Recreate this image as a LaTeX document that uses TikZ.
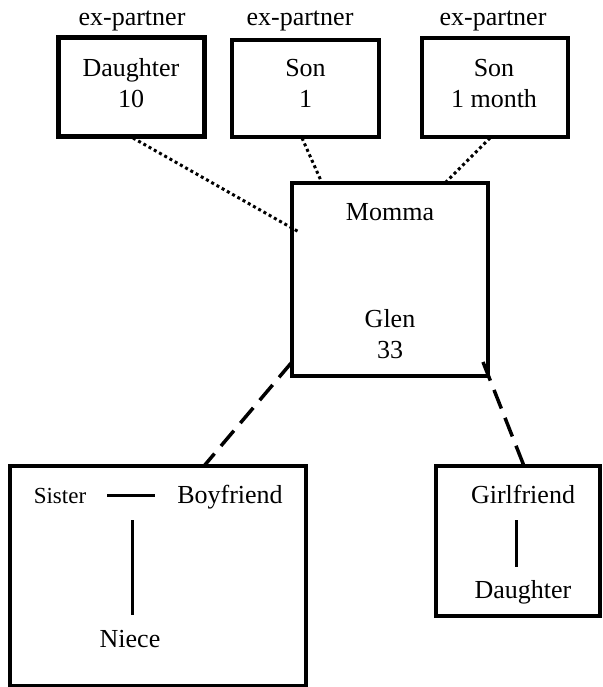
\documentclass[tikz,border=0pt]{standalone}
\usepackage{fontspec}
\setmainfont{Liberation Serif}
\begin{document}
\begin{tikzpicture}[x=1pt,y=-1pt,
  box/.style={draw,line width=3.5pt,rectangle,inner sep=0pt,outer sep=0pt},
  heavybox/.style={box,line width=5pt},
  lbl/.style={font=\fontsize{26}{30}\selectfont,inner sep=0pt,anchor=base},
  exlink/.style={line width=3pt,dash pattern=on 3pt off 3pt},
  kinlink/.style={line width=3.5pt,dash pattern=on 20pt off 10pt},
  tie/.style={line width=3pt}]
\useasboundingbox (0,0) rectangle (602,687);

% children from former partners
\node[lbl] (ex1) at (132,26) {ex-partner};
\node[lbl] (ex2) at (300,26) {ex-partner};
\node[lbl] (ex3) at (493,26) {ex-partner};
\node[heavybox,minimum width=146pt,minimum height=99pt] (d1) at (131,87.5) {};
\node[box,minimum width=147pt,minimum height=97pt] (s1) at (305.5,88.5) {};
\node[box,minimum width=146pt,minimum height=99pt] (s2) at (495,87.5) {};
\node[lbl] (d1a) at (131,77) {Daughter};
\node[lbl] (d1b) at (131,108) {10};
\node[lbl] (s1a) at (305.5,77) {Son};
\node[lbl] (s1b) at (305.5,108) {1};
\node[lbl] (s2a) at (494,77) {Son};
\node[lbl] (s2b) at (494,108) {1 month};

% central household
\node[box,minimum width=196pt,minimum height=193pt] (home) at (390,279.5) {};
\node[lbl] (momma) at (390,220) {Momma};
\node[lbl] (glen) at (390,327) {Glen};
\node[lbl] (age) at (390,358) {33};

% extended family
\node[box,minimum width=296pt,minimum height=220pt] (sisbox) at (158,576) {};
\node[lbl,font=\fontsize{23}{28}\selectfont] (sister) at (60,503) {Sister};
\node[lbl] (boyf) at (230,503) {Boyfriend};
\node[lbl] (niece) at (130,647) {Niece};
\coordinate (sa) at (107,495);
\coordinate (sb) at (155,495);
\coordinate (na) at (132,520);
\coordinate (nb) at (132,615);
\draw[tie] (sa) -- (sb);
\draw[tie] (na) -- (nb);

\node[box,minimum width=164pt,minimum height=150pt] (gfbox) at (518,541) {};
\node[lbl] (gf) at (523,503) {Girlfriend};
\node[lbl] (gfd) at (523,598) {Daughter};
\coordinate (ga) at (516,520);
\coordinate (gb) at (516,567);
\draw[tie] (ga) -- (gb);

% connectors
\coordinate (m1) at (299,232);
\coordinate (m2) at (322,183);
\coordinate (m3) at (445,183);
\coordinate (t1) at (133,138);
\coordinate (t2) at (302,138);
\coordinate (t3) at (490,138);
\draw[exlink] (t1) -- (m1);
\draw[exlink] (t2) -- (m2);
\draw[exlink] (t3) -- (m3);

\coordinate (hl) at (292,362);
\coordinate (hr) at (483,362);
\coordinate (bl) at (204,466);
\coordinate (br) at (524,466);
\draw[kinlink] (hl) -- (bl);
\draw[kinlink] (hr) -- (br);
\end{tikzpicture}
\end{document}
